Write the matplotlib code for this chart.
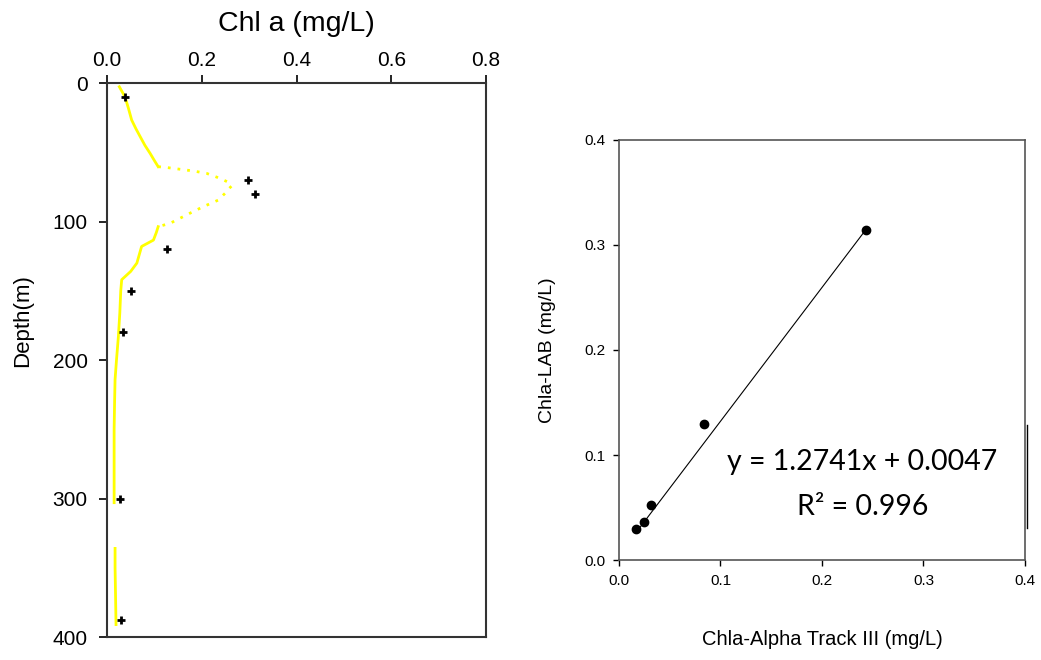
import numpy as np
import matplotlib
matplotlib.use('Agg')
import matplotlib.pyplot as plt
from matplotlib.lines import Line2D

plt.rcParams['font.family'] = ['Liberation Sans', 'DejaVu Sans']

# depth profile of Chl a (sensor trace), NaN = gap in the record
profile_depth = [2.7, 10, 18, 26.7, 33, 38.7, 45, 50.8, 56, 60.4, 61, 63.5, 65.2,
                 68, 70, 72, 74.4, 76, 78.4, 81, 84.5, 89.3, 94, 98, 101.3, 103.7,
                 108, 113.4, 118, 124, 130, 136, 142, 150, 166, 183, 200, 214, 230,
                 250, 270, 290, 303, np.nan, 336, 350, 370, 391]
profile_chl = [0.026, 0.038, 0.045, 0.052, 0.061, 0.070, 0.080, 0.091, 0.100, 0.108,
               0.126, 0.182, 0.210, 0.232, 0.246, 0.258, 0.263, 0.258, 0.253, 0.245,
               0.235, 0.203, 0.175, 0.152, 0.133, 0.108, 0.104, 0.098, 0.073, 0.068,
               0.063, 0.050, 0.031, 0.029, 0.027, 0.024, 0.020, 0.017, 0.016, 0.015,
               0.015, 0.015, 0.015, np.nan, 0.017, 0.017, 0.018, 0.019]

# lab samples
sample_depth = [10, 70, 80, 120, 150, 180, 300, 388]
sample_chl = [0.038, 0.298, 0.312, 0.127, 0.051, 0.034, 0.027, 0.030]

# calibration points
alpha_track = [0.0167, 0.025, 0.0315, 0.0837, 0.2433]
chla_lab = [0.030, 0.036, 0.052, 0.1295, 0.3143]
slope, intercept, r2 = 1.2741, 0.0047, 0.996

spine_col = '#333333'


def style_spines(ax, lw, col):
    for s in ax.spines.values():
        s.set_linewidth(lw)
        s.set_color(col)


def main():
    fig = plt.figure(figsize=(10.41, 6.6), dpi=100)

    # left: depth profile
    ax1 = fig.add_axes([0.1028, 0.0348, 0.3641, 0.8394])
    d = np.array(profile_depth)
    c = np.array(profile_chl)
    # sparse sampling through the peak shows up as a dotted trace
    peak = (d >= 60.4) & (d <= 103.7)
    solid_c = np.where(peak & (d > 60.4) & (d < 103.7), np.nan, c)
    ax1.plot(solid_c, d, color='#FFFF00', lw=2.0)
    ax1.plot(c[peak], d[peak], color='#FFFF00', lw=2.0, linestyle=(0, (1, 2.5)))
    ax1.plot(sample_chl, sample_depth, linestyle='none', marker='+',
             color='black', ms=6, mew=2)
    ax1.set_xlim(0, 0.8)
    ax1.set_ylim(400, 0)
    ax1.set_xticks([0, 0.2, 0.4, 0.6, 0.8])
    ax1.set_xticklabels(['0.0', '0.2', '0.4', '0.6', '0.8'])
    ax1.set_yticks([0, 100, 200, 300, 400])
    ax1.xaxis.tick_top()
    ax1.xaxis.set_label_position('top')
    ax1.tick_params(direction='out', length=6, width=1.2, labelsize=15, colors='black')
    ax1.tick_params(axis='y', pad=8)
    ax1.set_xlabel('Chl a (mg/L)', fontsize=20.5, labelpad=14)
    ax1.set_ylabel('Depth(m)', fontsize=16)
    ax1.yaxis.set_label_coords(-0.195, 0.572)
    style_spines(ax1, 1.5, spine_col)

    # right: calibration
    ax2 = fig.add_axes([0.5946, 0.1515, 0.39, 0.6364])
    xs = np.array([min(alpha_track), max(alpha_track)])
    ax2.plot(xs, slope * xs + intercept, color='black', lw=0.8)
    ax2.plot(alpha_track, chla_lab, linestyle='none', marker='o',
             color='black', ms=6)
    ax2.set_xlim(0, 0.4)
    ax2.set_ylim(0, 0.4)
    ax2.set_xticks([0, 0.1, 0.2, 0.3, 0.4])
    ax2.set_yticks([0, 0.1, 0.2, 0.3, 0.4])
    ax2.set_xticklabels(['0.0', '0.1', '0.2', '0.3', '0.4'])
    ax2.set_yticklabels(['0.0', '0.1', '0.2', '0.3', '0.4'])
    ax2.tick_params(direction='out', length=4, width=1, labelsize=11, pad=6)
    ax2.set_xlabel('Chla-Alpha Track III (mg/L)', fontsize=14.5, labelpad=30)
    ax2.set_ylabel('Chla-LAB (mg/L)', fontsize=14, labelpad=20)
    style_spines(ax2, 1.2, '#555555')

    eq_font = ['Lato', 'DejaVu Sans']
    ax2.text(0.598, 0.233, 'y = %.4fx + %.4f' % (slope, intercept), transform=ax2.transAxes,
             ha='center', va='center', fontsize=20.5, family=eq_font)
    ax2.text(0.601, 0.126, 'R² = %.3f' % r2, transform=ax2.transAxes,
             ha='center', va='center', fontsize=20.5, family=eq_font)
    # edge of the equation box
    ax2.add_line(Line2D([1.005, 1.005], [0.076, 0.321], transform=ax2.transAxes,
                        color='black', lw=1, clip_on=False))

    fig.savefig('out.png', dpi=100)


if __name__ == '__main__':
    main()
